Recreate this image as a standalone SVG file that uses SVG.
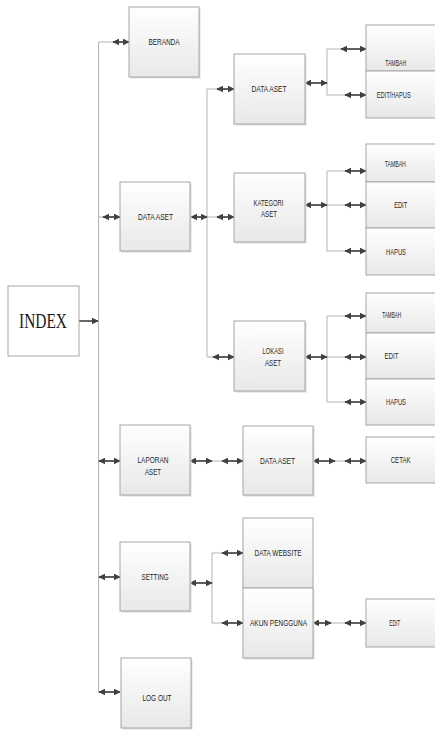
<svg xmlns="http://www.w3.org/2000/svg" width="435" height="730" viewBox="0 0 435 730">
<style>
.bx{fill:url(#g);stroke:#a6a6a6;stroke-width:1}
.sh{fill:#dcdcdc}
.ln{fill:none;stroke:#b3b3b3;stroke-width:1}
.ar{fill:none;stroke:#404040;stroke-width:1.6;marker-start:url(#h);marker-end:url(#h)}
.t{font-family:"Liberation Sans",Arial,sans-serif;font-size:8.5px;fill:#262626;text-anchor:middle}
</style>
<defs>
<linearGradient id="g" x1="0" y1="0" x2="0" y2="1">
<stop offset="0" stop-color="#ffffff"/>
<stop offset="1" stop-color="#e8e8e8"/>
</linearGradient>
<marker id="h" viewBox="0 0 10 10" refX="9" refY="5" markerWidth="7" markerHeight="7" markerUnits="userSpaceOnUse" orient="auto-start-reverse">
<path d="M0,0 L10,5 L0,10 Z" fill="#404040"/>
</marker>
<marker id="h1" viewBox="0 0 10 10" refX="9" refY="5" markerWidth="7" markerHeight="7" markerUnits="userSpaceOnUse" orient="auto">
<path d="M0,0 L10,5 L0,10 Z" fill="#404040"/>
</marker>
</defs>

<g id="connectors">
<!-- main trunk -->
<path class="ln" d="M98.5,42 V692 M98.5,42 H129 M98.5,217 H120 M98.5,461 H120 M98.5,577 H120 M98.5,692 H120"/>
<line x1="79" y1="321" x2="98" y2="321" stroke="#404040" stroke-width="1.6" marker-end="url(#h1)"/>
<line class="ar" x1="113" y1="42" x2="129" y2="42"/>
<line class="ar" x1="103" y1="217" x2="120" y2="217"/>
<line class="ar" x1="99" y1="461" x2="120" y2="461"/>
<line class="ar" x1="99" y1="577" x2="120" y2="577"/>
<line class="ar" x1="99" y1="692" x2="120" y2="692"/>
<!-- data aset branch -->
<path class="ln" d="M190,217 H234 M207,89 V357 M207,89 H234 M207,357 H234"/>
<line class="ar" x1="191" y1="217" x2="207" y2="217"/>
<line class="ar" x1="217" y1="89" x2="234" y2="89"/>
<line class="ar" x1="217" y1="217" x2="234" y2="217"/>
<line class="ar" x1="213" y1="357" x2="234" y2="357"/>
<!-- data aset L2 -->
<path class="ln" d="M305,83 H327 M327,49 V95 M327,49 H366 M327,95 H366"/>
<line class="ar" x1="305" y1="83" x2="327" y2="83"/>
<line class="ar" x1="341" y1="49" x2="366" y2="49"/>
<line class="ar" x1="345" y1="95" x2="366" y2="95"/>
<!-- kategori -->
<path class="ln" d="M305,205 H366 M327,171 V251 M327,171 H366 M327,251 H366"/>
<line class="ar" x1="305" y1="205" x2="327" y2="205"/>
<line class="ar" x1="345" y1="171" x2="366" y2="171"/>
<line class="ar" x1="345" y1="205" x2="366" y2="205"/>
<line class="ar" x1="345" y1="251" x2="366" y2="251"/>
<!-- lokasi -->
<path class="ln" d="M305,357 H366 M327,316 V402 M327,316 H366 M327,402 H366"/>
<line class="ar" x1="305" y1="357" x2="327" y2="357"/>
<line class="ar" x1="345" y1="316" x2="366" y2="316"/>
<line class="ar" x1="345" y1="357" x2="366" y2="357"/>
<line class="ar" x1="345" y1="402" x2="366" y2="402"/>
<!-- laporan -->
<path class="ln" d="M190,461 H243 M313,461 H366"/>
<line class="ar" x1="190" y1="461" x2="212" y2="461"/>
<line class="ar" x1="222" y1="461" x2="243" y2="461"/>
<line class="ar" x1="313" y1="461" x2="335" y2="461"/>
<line class="ar" x1="345" y1="461" x2="366" y2="461"/>
<!-- setting -->
<path class="ln" d="M190,583 H212 M212,553 V623 M212,553 H243 M212,623 H243 M313,623 H366"/>
<line class="ar" x1="190" y1="583" x2="212" y2="583"/>
<line class="ar" x1="222" y1="553" x2="243" y2="553"/>
<line class="ar" x1="222" y1="623" x2="243" y2="623"/>
<line class="ar" x1="313" y1="623" x2="331" y2="623"/>
<line class="ar" x1="345" y1="623" x2="366" y2="623"/>
</g>

<g id="index">
<rect x="8" y="286" width="71" height="70" fill="#ffffff" stroke="#a6a6a6"/>
<text x="43" y="328" font-family="'Liberation Serif','Times New Roman',serif" font-size="21" text-anchor="middle" fill="#1a1a1a" textLength="48" lengthAdjust="spacingAndGlyphs">INDEX</text>
</g>

<g id="beranda">
<rect class="sh" x="130.5" y="8.5" width="70" height="70"/>
<rect class="bx" x="129" y="7" width="70" height="70"/>
<text class="t" x="164" y="45" textLength="31" lengthAdjust="spacingAndGlyphs">BERANDA</text>
</g>

<g id="data-aset">
<rect class="sh" x="121.5" y="183.5" width="70" height="69"/>
<rect class="bx" x="120" y="182" width="70" height="69"/>
<text class="t" x="155.5" y="219.5" textLength="35" lengthAdjust="spacingAndGlyphs">DATA ASET</text>
</g>

<g id="laporan-aset">
<rect class="sh" x="121.5" y="426.5" width="70" height="70"/>
<rect class="bx" x="120" y="425" width="70" height="70"/>
<text class="t" x="153" y="463" textLength="31" lengthAdjust="spacingAndGlyphs">LAPORAN</text>
<text class="t" x="153" y="475" textLength="16" lengthAdjust="spacingAndGlyphs">ASET</text>
</g>

<g id="setting">
<rect class="sh" x="121.5" y="543.5" width="70" height="69"/>
<rect class="bx" x="120" y="542" width="70" height="69"/>
<text class="t" x="155" y="580" textLength="27" lengthAdjust="spacingAndGlyphs">SETTING</text>
</g>

<g id="log-out">
<rect class="sh" x="122.5" y="659.5" width="70" height="70"/>
<rect class="bx" x="121" y="658" width="70" height="70"/>
<text class="t" x="157" y="701" textLength="29" lengthAdjust="spacingAndGlyphs">LOG OUT</text>
</g>

<g id="data-aset-2">
<rect class="sh" x="235.5" y="55.5" width="71" height="70"/>
<rect class="bx" x="234" y="54" width="71" height="70"/>
<text class="t" x="269" y="92" textLength="35" lengthAdjust="spacingAndGlyphs">DATA ASET</text>
</g>

<g id="kategori-aset">
<rect class="sh" x="235.5" y="174.5" width="71" height="69"/>
<rect class="bx" x="234" y="173" width="71" height="69"/>
<text class="t" x="268.5" y="206" textLength="30" lengthAdjust="spacingAndGlyphs">KATEGORI</text>
<text class="t" x="269" y="217" textLength="16" lengthAdjust="spacingAndGlyphs">ASET</text>
</g>

<g id="lokasi-aset">
<rect class="sh" x="235.5" y="322.5" width="71" height="70"/>
<rect class="bx" x="234" y="321" width="71" height="70"/>
<text class="t" x="273" y="354" textLength="21" lengthAdjust="spacingAndGlyphs">LOKASI</text>
<text class="t" x="273" y="365.5" textLength="16" lengthAdjust="spacingAndGlyphs">ASET</text>
</g>

<g id="data-aset-3">
<rect class="sh" x="244.5" y="427.5" width="70" height="69"/>
<rect class="bx" x="243" y="426" width="70" height="69"/>
<text class="t" x="277.5" y="463.7" textLength="35" lengthAdjust="spacingAndGlyphs">DATA ASET</text>
</g>

<g id="data-website">
<rect class="bx" x="243" y="518" width="70" height="70"/>
<text class="t" x="278" y="556" textLength="47" lengthAdjust="spacingAndGlyphs">DATA WEBSITE</text>
</g>

<g id="akun-pengguna">
<rect class="sh" x="244.5" y="589.5" width="70" height="70"/>
<rect class="bx" x="243" y="588" width="70" height="70"/>
<text class="t" x="278.5" y="626" textLength="57" lengthAdjust="spacingAndGlyphs">AKUN PENGGUNA</text>
</g>

<g id="tambah-1">
<rect class="bx" x="366" y="25" width="70" height="46"/>
<text class="t" x="395.7" y="66.3" textLength="21" lengthAdjust="spacingAndGlyphs">TAMBAH</text>
</g>
<g id="edit-hapus-1">
<rect class="bx" x="366" y="71" width="70" height="47"/>
<text class="t" x="393.7" y="97.7" textLength="34" lengthAdjust="spacingAndGlyphs">EDIT/HAPUS</text>
</g>

<g id="tambah-2">
<rect class="bx" x="366" y="144" width="70" height="38"/>
<text class="t" x="395.3" y="167" textLength="21" lengthAdjust="spacingAndGlyphs">TAMBAH</text>
</g>
<g id="edit-2">
<rect class="bx" x="366" y="182" width="70" height="46"/>
<text class="t" x="400.7" y="208" textLength="13" lengthAdjust="spacingAndGlyphs">EDIT</text>
</g>
<g id="hapus-2">
<rect class="bx" x="366" y="228" width="70" height="47"/>
<text class="t" x="396" y="254.7" textLength="20" lengthAdjust="spacingAndGlyphs">HAPUS</text>
</g>

<g id="tambah-3">
<rect class="bx" x="366" y="293" width="70" height="40"/>
<text class="t" x="391.7" y="318" textLength="19" lengthAdjust="spacingAndGlyphs">TAMBAH</text>
</g>
<g id="edit-3">
<rect class="bx" x="366" y="333" width="70" height="46"/>
<text class="t" x="391.5" y="359" textLength="14" lengthAdjust="spacingAndGlyphs">EDIT</text>
</g>
<g id="hapus-3">
<rect class="bx" x="366" y="379" width="70" height="46"/>
<text class="t" x="396" y="404.7" textLength="20" lengthAdjust="spacingAndGlyphs">HAPUS</text>
</g>

<g id="cetak">
<rect class="bx" x="366" y="437" width="70" height="46"/>
<text class="t" x="400.7" y="463" textLength="20" lengthAdjust="spacingAndGlyphs">CETAK</text>
</g>

<g id="edit-akun">
<rect class="bx" x="366" y="599" width="70" height="48"/>
<text class="t" x="394.7" y="626" textLength="11" lengthAdjust="spacingAndGlyphs">EDIT</text>
</g>
</svg>
